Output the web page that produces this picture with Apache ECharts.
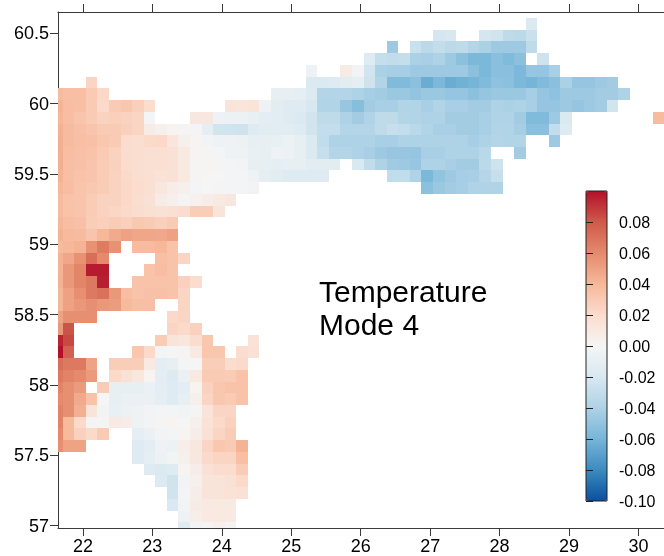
<!DOCTYPE html>
<html>
<head>
<meta charset="utf-8">
<style>html,body{margin:0;padding:0;background:#fff;overflow:hidden}#c{width:664px;height:556px}</style>
<script src="https://cdn.jsdelivr.net/npm/echarts@6/dist/echarts.min.js"></script>
</head>
<body>
<div id="c"></div>
<script>
// Axis ticks
const xTicks = [22, 23, 24, 25, 26, 27, 28, 29, 30];
const yTicks = [57, 57.5, 58, 58.5, 59, 59.5, 60, 60.5];
const barTicks = [-0.10, -0.08, -0.06, -0.04, -0.02, 0, 0.02, 0.04, 0.06, 0.08];
const noteLines = ['Temperature', 'Mode 4'];

// Cell centres (longitude for col -1.., latitude for row -5..)
const lons = [21.625,21.792,21.958,22.125,22.292,22.458,22.625,22.792,22.958,23.125,23.292,23.458,23.625,23.792,23.958,24.125,24.292,24.458,24.625,24.792,24.958,25.125,25.292,25.458,25.625,25.792,25.958,26.125,26.292,26.458,26.625,26.792,26.958,27.125,27.292,27.458,27.625,27.792,27.958,28.125,28.292,28.458,28.625,28.792,28.958,29.125,29.292,29.458,29.625,29.792,29.958,30.125,30.292];
const lats = [60.567,60.483,60.4,60.317,60.233,60.15,60.067,59.983,59.9,59.817,59.733,59.65,59.567,59.483,59.4,59.317,59.233,59.15,59.067,58.983,58.9,58.817,58.733,58.65,58.567,58.483,58.4,58.317,58.233,58.15,58.067,57.983,57.9,57.817,57.733,57.65,57.567,57.483,57.4,57.317,57.233,57.15,57.067,56.983];
const lonStep = 1 / 6, latStep = 1 / 12;
const _ = null;

// Values (x 0.001) per latitude row, as runs: [first column, values...]
const rowA = [[40,-18]];
const rowB = [[32,-22,-20,_,_,-22,-24,-32,-34,-27]];
const rowC = [[28,-46,_,-27,-34,-30,-34,-32,-37,-41,-46,-46,-46,-32]];
const rowD = [[26,-16,-29,-31,-29,-41,-42,-40,-46,-52,-58,-58,-53,-56,-52,_,-25]];
const rowE = [[21,-5,_,_,8,-3,-23,-41,-43,-43,-46,-46,-46,-46,-46,-52,-58,-53,-53,-58,-49,-49,-42]];
const row0 = [[2,24],[21,-18,-18,-15,-13,-11,-25,-38,-56,-56,-52,-64,-58,-64,-62,-60,-56,-51,-52,-58,-60,-56,-53,-41,-49,-49,-46,-44]];
const row1 = [[-1,38,36,36,30,22],[18,-9,-9,-11,-17,-37,-37,-37,-40,-43,-44,-47,-47,-50,-47,-47,-49,-49,-52,-49,-47,-47,-47,-43,-49,-51,-46,-46,-46,-44,-44,-40]];
const row2 = [[-1,42,37,36,30,21,30,32,27,20],[14,14,13,14,-5,-13,-15,-15,-20,-38,-38,-48,-54,-44,-42,-42,-38,-38,-42,-38,-42,-42,-44,-44,-40,-41,-40,-42,-49,-49,-46,-49,-46,-44,-23]];
const row3 = [[-1,41,37,33,30,25,27,25,24,-2],[11,11,11,-4,-6,-6,-8,-12,-13,-15,-18,-23,-32,-32,-40,-44,-39,-32,-32,-37,-38,-40,-40,-44,-44,-44,-42,-39,-39,-44,-56,-56,-46,-18],[51,38]];
const row4 = [[-1,43,38,35,33,30,30,27,24,8,4,2,1,-1,-11,-23,-24,-25,-15,-13,-13,-13,-15,-23,-30,-30,-37,-37,-37,-32,-28,-30,-35,-38,-42,-42,-44,-44,-42,-38,-38,-43,-53,-53,-30,-15]];
const row5 = [[-1,44,38,36,35,32,30,19,18,21,22,13,5,2,-3,-5,-5,-6,-10,-9,-8,-6,-9,-18,-31,-40,-40,-40,-40,-42,-42,-40,-40,-40,-40,-40,-40,-43,-40,-37,-38,-38,_,_,-46]];
const row6 = [[-1,44,37,35,34,30,25,19,18,17,17,16,10,2,1,-2,-4,-4,-8,-9,-5,-6,-9,-18,-28,-37,-37,-40,-42,-46,-48,-48,-49,-42,-42,-40,-40,-40,-35,_,_,-44]];
const row7 = [[-1,44,36,35,33,29,26,19,18,17,17,16,10,1,1,-1,-2,-3,-9,-10,-11,-10,-10,-13,-13,-13,_,-19,-31,-40,-45,-46,-48,-40,-40,-42,-44,-44,-34,-25]];
const row8 = [[-1,42,36,34,33,29,25,21,18,17,15,16,10,1,0,0,-1,-2,-5,-11,-13,-15,-15,-15,-15],[28,-31,-31,-39,-58,-50,-46,-43,-42,-36,-28]];
const row9 = [[-1,40,37,33,31,29,25,22,20,17,11,7,5,-2,0,-1,-2,-2,-3],[31,-52,-47,-44,-43,-39,-39,-39]];
const row10 = [[-1,38,34,33,29,25,25,22,18,16,8,5,1,3,7,9,11]];
const row11 = [[-1,38,34,33,29,25,23,21,19,17,16,17,19,28,28,14]];
const row12 = [[-1,40,37,35,28,27,29,27,31,30,27,30]];
const row13 = [[-1,42,39,38,33,40,46,50,48,48,47,50]];
const row14 = [[-1,38,40,42,57,66,57,_,38,38,40,34]];
const row15 = [[-1,42,48,57,72,60],[8,36,34,24]];
const row16 = [[-1,42,54,62,97,97],[7,34,37,34]];
const row17 = [[-1,43,54,62,67,96],[6,34,34,34,34,26,20]];
const row18 = [[-1,41,50,58,67,70,54,37,34,35,35,34,24]];
const row19 = [[-1,41,50,54,58,54,52,39,36,36,_,_,24]];
const row20 = [[-1,49,58,58,58],[9,22,24]];
const row21 = [[-1,54,82],[9,24,21,26]];
const row22 = [[-1,95,85],[8,29,14,12,19,32],[16,15]];
const row23 = [[-1,100,77],[6,32,21,-2,0,1,9,32,32,_,19,16]];
const row24 = [[-1,72,67,67,49,_,28,28,28,9,-12,-9,-2,0,28,28,19,21]];
const row25 = [[-1,67,63,60,53,_,21,16,11,2,-12,-17,-7,9,30,30,29,34]];
const row26 = [[-1,63,58,53,_,29,-10,-10,-10,-7,-12,-15,-12,2,26,32,34,34]];
const row27 = [[-1,60,58,46,34,0,-10,-7,-7,-7,-11,-15,-10,4,24,32,30,34]];
const row28 = [[-1,63,58,44,14,-3,-8,-6,-5,-3,-2,-2,-3,-1,14,24,24]];
const row29 = [[-1,63,39,21,-1,1,9,7,-4,-3,1,2,0,4,15,21,26]];
const row30 = [[-1,60,39,26,21,30],[6,-11,-7,-3,-2,2,7,16,24,29]];
const row31 = [[-1,58,49,49],[6,-15,-12,-5,-6,6,11,24,32,30,42]];
const row32 = [[6,-15,-11,-6,-3,4,11,21,24,24,36]];
const row33 = [[7,-15,-18,-15,2,7,16,19,19,29]];
const row34 = [[8,-17,-24,-3,4,14,14,16,21]];
const row35 = [[9,-24,-2,7,14,14,15,16]];
const row36 = [[9,-19,-3,8,9,10,10]];
const row37 = [[10,-4,6,9,10,9]];
const row38 = [[10,-14,-3,1,5,1]];
const rows = [rowA,rowB,rowC,rowD,rowE,row0,row1,row2,row3,row4,row5,row6,row7,row8,row9,row10,row11,row12,row13,row14,row15,row16,row17,row18,row19,row20,row21,row22,row23,row24,row25,row26,row27,row28,row29,row30,row31,row32,row33,row34,row35,row36,row37,row38];

const colours = ['#0a4f9e','#3c8bbf','#76b5d8','#aed2e6','#d8e8f1','#f5f5f5','#fbdccd','#f7b89a','#e58a6c','#cf5a4a','#b2102a'];
const cells = [];
rows.forEach(function (runs, r) {
  runs.forEach(function (run) {
    for (let i = 1; i < run.length; i++) {
      if (run[i] !== null) cells.push([lons[run[0] + i], lats[r], run[i] / 1000]);
    }
  });
});

const FONT = '"Liberation Sans", Arial, sans-serif';
const AXIS = '#3a3a3a';
const chart = echarts.init(document.getElementById('c'), null, {renderer: 'canvas'});

function mainX(position, labels) {
  return {
    type: 'value', gridIndex: 0, position: position, min: 21.6416, max: 30.367,
    splitLine: {show: false},
    axisLine: {show: true, onZero: false, lineStyle: {color: AXIS, width: 1}},
    axisTick: {show: true, length: 8, customValues: xTicks, lineStyle: {color: AXIS}},
    axisLabel: {show: labels, customValues: xTicks, color: '#000', fontFamily: FONT, fontSize: 18, margin: 10}
  };
}

chart.setOption({
  animation: false,
  backgroundColor: '#fff',
  grid: [
    {left: 58, top: 12, width: 616, height: 516, show: false},
    {left: 586, top: 191, width: 21, height: 310, show: true, z: 10, borderColor: '#222', borderWidth: 1, backgroundColor: 'transparent'}
  ],
  xAxis: [
    mainX('bottom', true),
    mainX('top', false),
    {type: 'value', gridIndex: 1, min: 0, max: 1, show: false}
  ],
  yAxis: [
    {
      type: 'value', gridIndex: 0, position: 'left', min: 56.984, max: 60.651,
      splitLine: {show: false},
      axisLine: {show: true, onZero: false, lineStyle: {color: AXIS, width: 1}},
      axisTick: {show: true, length: 8, customValues: yTicks, lineStyle: {color: AXIS}},
      axisLabel: {show: true, customValues: yTicks, color: '#000', fontFamily: FONT, fontSize: 18, margin: 9,
        verticalAlign: 'top', lineHeight: 2,
        formatter: function (v) { return String(v); }}
    },
    {
      type: 'value', gridIndex: 1, position: 'right', min: -0.1, max: 0.1, z: 11,
      splitLine: {show: false},
      axisLine: {show: false},
      axisTick: {show: true, length: 7, customValues: barTicks, lineStyle: {color: '#222'}},
      axisLabel: {show: true, customValues: barTicks, color: '#000', fontFamily: FONT, fontSize: 16, margin: 12,
        verticalAlign: 'top', lineHeight: 4,
        formatter: function (v) { return v.toFixed(2); }}
    }
  ],
  visualMap: {
    type: 'continuous', show: true, seriesIndex: 0, dimension: 2, min: -0.1, max: 0.1,
    left: 586, top: 191, itemWidth: 21, itemHeight: 310, padding: 0, z: 4,
    calculable: false, text: null, showLabel: false, hoverLink: false,
    inRange: {color: colours}
  },
  series: [{
    type: 'custom', coordinateSystem: 'cartesian2d', xAxisIndex: 0, yAxisIndex: 0,
    data: cells, encode: {x: 0, y: 1}, silent: true,
    renderItem: function (params, api) {
      const lon = api.value(0), lat = api.value(1);
      // snap the cell edges to the regular grid so neighbouring cells share an edge exactly
      const a = api.coord([Math.round((lon - lonStep / 2) * 24) / 24, Math.round((lat + latStep / 2) * 120) / 120]);
      const b = api.coord([Math.round((lon + lonStep / 2) * 24) / 24, Math.round((lat - latStep / 2) * 120) / 120]);
      const x0 = Math.round(a[0]), y0 = Math.round(a[1]), x1 = Math.round(b[0]), y1 = Math.round(b[1]);
      const shape = echarts.graphic.clipRectByRect(
        {x: x0, y: y0, width: x1 - x0, height: y1 - y0},
        {x: params.coordSys.x, y: params.coordSys.y, width: params.coordSys.width, height: params.coordSys.height}
      );
      if (!shape) return null;
      return {type: 'rect', shape: shape, style: {fill: api.visual('color')}};
    }
  }],
  graphic: [
    {type: 'text', left: 319, top: 279, z: 20, style: {text: noteLines[0], fill: '#000', font: '30px ' + FONT}},
    {type: 'text', left: 319, top: 312, z: 20, style: {text: noteLines[1], fill: '#000', font: '30px ' + FONT}}
  ]
});
</script>
</body>
</html>
